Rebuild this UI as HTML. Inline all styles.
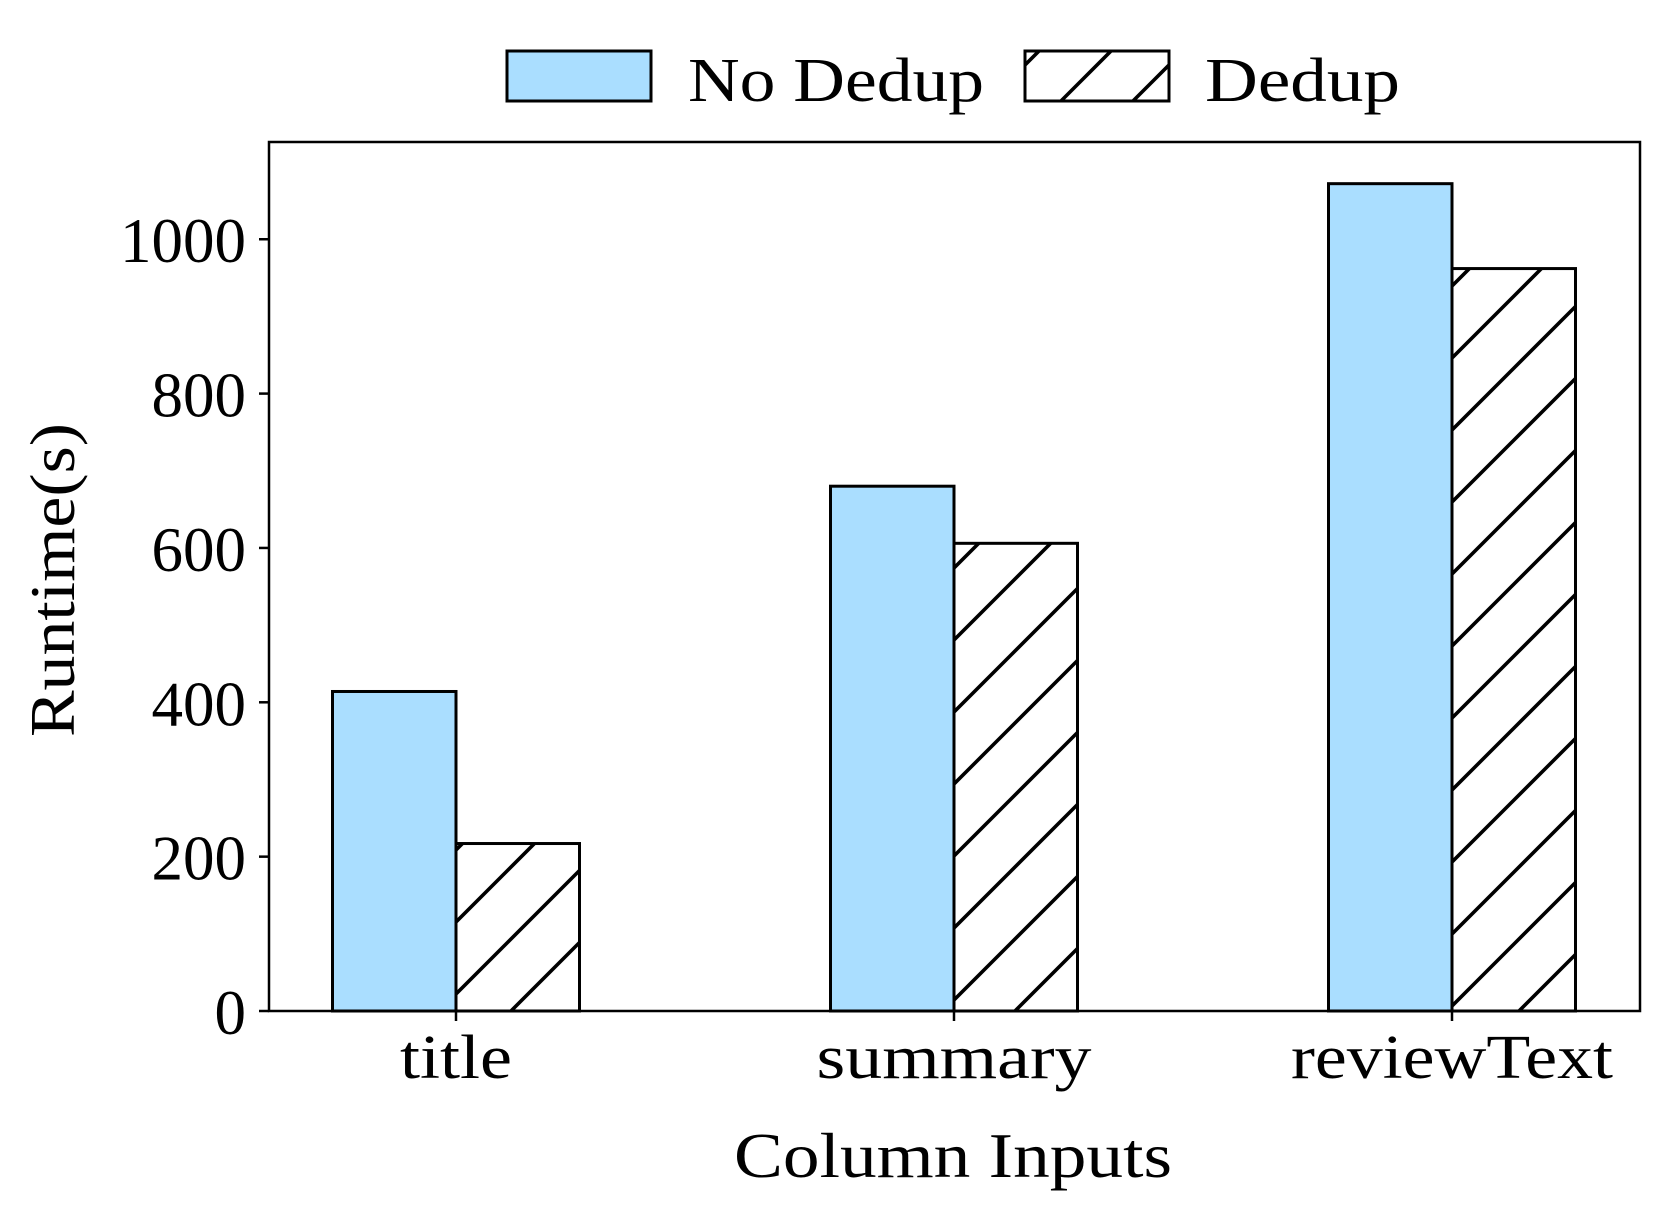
<!DOCTYPE html>
<html><head><meta charset="utf-8"><style>body{margin:0;background:#fff}svg{display:block}text{font-family:"Liberation Serif",serif;fill:#000}</style></head>
<body>
<svg id="chart" width="1661" height="1217" viewBox="0 0 1661 1217" xmlns="http://www.w3.org/2000/svg">
<defs>
<pattern id="hatch" patternUnits="userSpaceOnUse" width="72" height="72">
<path d="M-10,20 L20,-10 M-10,92 L92,-10 M62,92 L92,62" stroke="#000" stroke-width="3.6"/>
</pattern>
</defs>
<g id="legend">
<rect x="507" y="51" width="144" height="50" fill="#aadeff" stroke="#000" stroke-width="3"/>
<text x="688" y="101" font-size="62" textLength="296" lengthAdjust="spacingAndGlyphs">No Dedup</text>
<rect x="1025" y="51" width="144" height="50" fill="url(#hatch)" stroke="#000" stroke-width="3"/>
<text x="1205" y="101" font-size="62" textLength="195" lengthAdjust="spacingAndGlyphs">Dedup</text>
</g>
<g id="plot"></g>
<text x="953" y="1177" font-size="64" text-anchor="middle" textLength="438" lengthAdjust="spacingAndGlyphs">Column Inputs</text>
<text transform="translate(74,580) rotate(-90)" font-size="64" text-anchor="middle" textLength="314" lengthAdjust="spacingAndGlyphs">Runtime(s)</text>
</svg>
<script>
const categories = ["title", "summary", "reviewText"];
const noDedup = [414, 680, 1072];
const dedup = [217, 606, 962];
const yTicks = [0, 200, 400, 600, 800, 1000];
const catLabelWidths = [112, 275, 322];

const L = 269, R = 1640, T = 142, B = 1011, yMax = 1126;
const y = v => B - (v / yMax) * (B - T);
const xc = i => 456 + i * 498;
const bw = 123.5;
const NS = "http://www.w3.org/2000/svg";
const g = document.getElementById('plot');
function mk(tag, attrs) { const e = document.createElementNS(NS, tag); for (const k in attrs) e.setAttribute(k, attrs[k]); g.appendChild(e); return e; }

categories.forEach((c, i) => {
  const b1 = mk('rect', {x: xc(i) - bw, y: y(noDedup[i]), width: bw, height: B - y(noDedup[i]), fill: '#aadeff', stroke: '#000', 'stroke-width': 3});
  
  
  const b2 = mk('rect', {x: xc(i), y: y(dedup[i]), width: bw, height: B - y(dedup[i]), fill: 'url(#hatch)', stroke: '#000', 'stroke-width': 3});
  
  
  const tk = mk('line', {x1: xc(i), x2: xc(i), y1: B, y2: B + 10, stroke: '#000', 'stroke-width': 2.5});
  
  
  const t = mk('text', {x: xc(i), y: 1078, 'font-size': 62, 'text-anchor': 'middle', textLength: catLabelWidths[i], lengthAdjust: 'spacingAndGlyphs'});
  t.textContent = c;
  
  
});
yTicks.forEach(v => {
  const tk = mk('line', {x1: L - 10, x2: L, y1: y(v), y2: y(v), stroke: '#000', 'stroke-width': 2.5});
  
  
  const s = String(v);
  const t = mk('text', {x: 246, y: y(v) + 23, 'font-size': 64, 'text-anchor': 'end', textLength: s.length * 31.5, lengthAdjust: 'spacingAndGlyphs'});
  t.textContent = s;
  
  
});
const frame = mk('rect', {x: L, y: T, width: R - L, height: B - T, fill: 'none', stroke: '#000', 'stroke-width': 2.5});


</script>
</body></html>
